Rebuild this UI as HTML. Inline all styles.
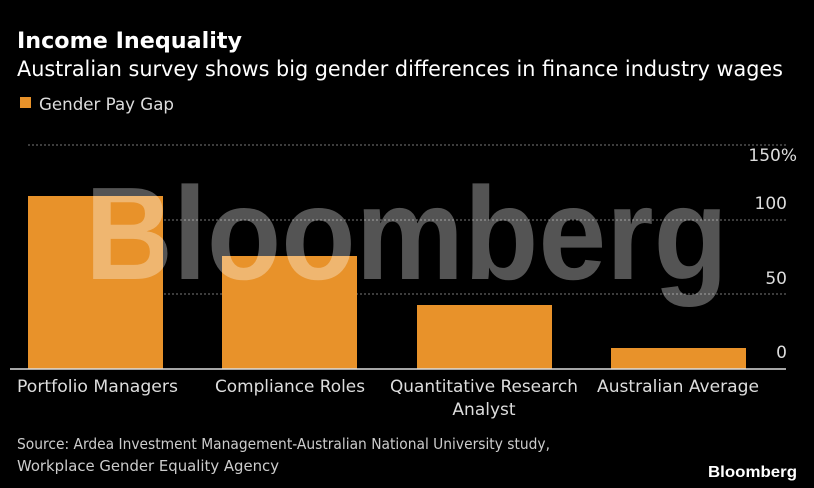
<!DOCTYPE html>
<html><head><style>
html,body{margin:0;padding:0;background:#000;}
svg{display:block;}
text{font-family:"DejaVu Sans","Liberation Sans",sans-serif;fill:#fff;}
</style></head><body>
<svg width="814" height="488" viewBox="0 0 814 488" xmlns="http://www.w3.org/2000/svg">
<rect width="814" height="488" fill="#000"/>
<text x="17" y="48" font-size="22" font-weight="bold" textLength="225" lengthAdjust="spacingAndGlyphs">Income Inequality</text>
<text x="17" y="76" font-size="21" textLength="766" lengthAdjust="spacingAndGlyphs">Australian survey shows big gender differences in finance industry wages</text>
<rect x="20" y="97" width="11" height="11" fill="#e8922a"/>
<text x="39" y="110" font-size="17" fill="#ccc" style="fill:#ddd" textLength="135" lengthAdjust="spacingAndGlyphs">Gender Pay Gap</text>
<g stroke="#777" stroke-width="1" stroke-dasharray="2,2">
<line x1="28" y1="145" x2="786" y2="145"/>
<line x1="28" y1="220" x2="786" y2="220"/>
<line x1="28" y1="294" x2="786" y2="294"/>
</g>
<g font-size="17" text-anchor="end" style="fill:#ddd">
<text x="797" y="161" style="fill:#ddd">150%</text>
<text x="787" y="209" style="fill:#ddd">100</text>
<text x="787" y="284" style="fill:#ddd">50</text>
<text x="787" y="358" style="fill:#ddd">0</text>
</g>
<g fill="#e8922a">
<rect x="28" y="196" width="135" height="173"/>
<rect x="222" y="256" width="135" height="113"/>
<rect x="417" y="305" width="135" height="64"/>
<rect x="611" y="348" width="135" height="21"/>
</g>
<line x1="10" y1="369" x2="786" y2="369" stroke="#ddd" stroke-width="1.5"/>
<text x="85" y="279" font-family="Liberation Sans" font-weight="bold" font-size="132" style="fill:rgba(255,255,255,0.33);font-family:'Liberation Sans',sans-serif" textLength="643" lengthAdjust="spacingAndGlyphs">Bloomberg</text>
<g font-size="17" style="fill:#ddd">
<text x="17" y="392" style="fill:#ddd" textLength="161" lengthAdjust="spacingAndGlyphs">Portfolio Managers</text>
<text x="215" y="392" style="fill:#ddd" textLength="150" lengthAdjust="spacingAndGlyphs">Compliance Roles</text>
<text x="390" y="392" style="fill:#ddd" textLength="188" lengthAdjust="spacingAndGlyphs">Quantitative Research</text>
<text x="484" y="415" text-anchor="middle" style="fill:#ddd">Analyst</text>
<text x="597" y="392" style="fill:#ddd" textLength="162" lengthAdjust="spacingAndGlyphs">Australian Average</text>
</g>
<g font-size="15" style="fill:#ccc">
<text x="17" y="449" style="fill:#ccc" textLength="533" lengthAdjust="spacingAndGlyphs">Source: Ardea Investment Management-Australian National University study,</text>
<text x="17" y="471" style="fill:#ccc" textLength="262" lengthAdjust="spacingAndGlyphs">Workplace Gender Equality Agency</text>
</g>
<text x="708" y="477" font-size="16" font-weight="bold" style="font-family:'Liberation Sans',sans-serif" textLength="89" lengthAdjust="spacingAndGlyphs">Bloomberg</text>
</svg>
</body></html>
